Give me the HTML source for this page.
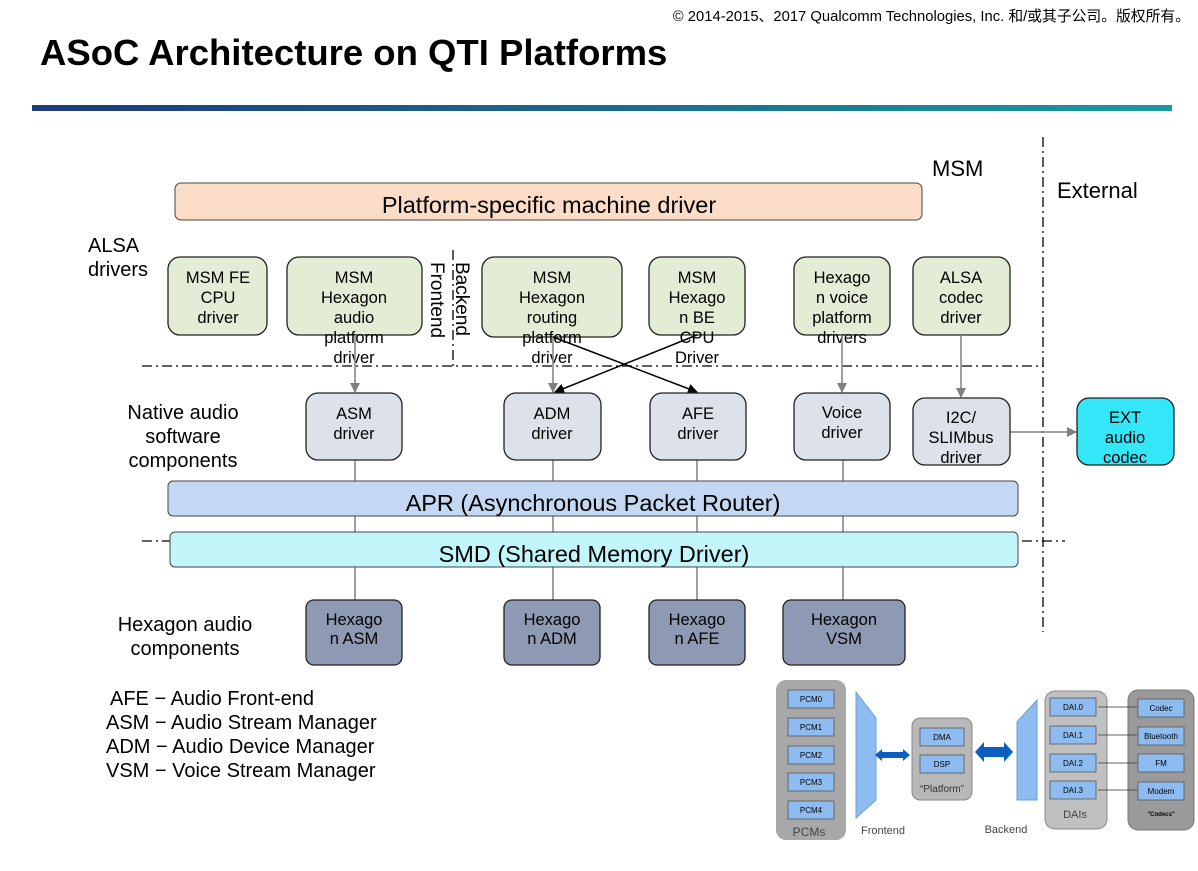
<!DOCTYPE html>
<html><head><meta charset="utf-8"><style>
body{margin:0;background:#fff;}
svg text{font-family:"Liberation Sans","Noto Sans CJK SC",sans-serif;}
</style></head><body>
<svg width="1198" height="866" viewBox="0 0 1198 866" xmlns="http://www.w3.org/2000/svg">
<defs>
<linearGradient id="g" x1="0" x2="1"><stop offset="0" stop-color="#1d3a7a"/><stop offset="1" stop-color="#1a9aa0"/></linearGradient>
<marker id="ag" markerWidth="10" markerHeight="10" refX="9" refY="5" orient="auto" markerUnits="userSpaceOnUse"><path d="M0,0 L10,5 L0,10z" fill="#808080"/></marker>
<marker id="ak" markerWidth="10" markerHeight="10" refX="9" refY="5" orient="auto" markerUnits="userSpaceOnUse"><path d="M0,0 L10,5 L0,10z" fill="#000"/></marker>
</defs>
<text x="1190" y="21" font-size="14.8" text-anchor="end">© 2014-2015、2017 Qualcomm Technologies, Inc. 和/或其子公司。版权所有。</text>
<text x="40" y="65" font-size="36.5" font-weight="bold">ASoC Architecture on QTI Platforms</text>
<rect x="32" y="105" width="1140" height="6" fill="url(#g)"/>

<g stroke="#000" stroke-width="1.3" stroke-dasharray="10,4,2,4" fill="none">
<line x1="1043" y1="137" x2="1043" y2="632"/>
<line x1="142" y1="366" x2="1043" y2="366"/>
<line x1="142" y1="541" x2="1065" y2="541"/>
<line x1="453" y1="250" x2="453" y2="366"/>
</g>
<text x="932" y="176" font-size="22">MSM</text>
<text x="1057" y="198" font-size="22">External</text>

<rect x="175" y="183" width="747" height="37" rx="6" fill="#fbdcc6" stroke="#444"/>
<text x="549" y="213" font-size="23.5" text-anchor="middle">Platform-specific machine driver</text>

<g font-size="20">
<text x="88" y="252">ALSA</text><text x="88" y="276">drivers</text>
<text x="183" y="419" text-anchor="middle">Native audio</text>
<text x="183" y="443" text-anchor="middle">software</text>
<text x="183" y="467" text-anchor="middle">components</text>
<text x="185" y="631" text-anchor="middle">Hexagon audio</text>
<text x="185" y="655" text-anchor="middle">components</text>
<text x="110" y="705">AFE − Audio Front-end</text>
<text x="106" y="729">ASM − Audio Stream Manager</text>
<text x="106" y="753">ADM − Audio Device Manager</text>
<text x="106" y="777">VSM − Voice Stream Manager</text>
</g>

<g fill="#e3ecd5" stroke="#222" stroke-width="1.3">
<rect x="168" y="257" width="99" height="78" rx="12"/>
<rect x="287" y="257" width="135" height="78" rx="12"/>
<rect x="482" y="257" width="140" height="80" rx="12"/>
<rect x="649" y="257" width="96" height="78" rx="12"/>
<rect x="794" y="257" width="96" height="78" rx="12"/>
<rect x="913" y="257" width="97" height="78" rx="12"/>
</g>
<g font-size="16.5" text-anchor="middle">
<text x="218" y="283">MSM FE</text><text x="218" y="303">CPU</text><text x="218" y="323">driver</text>
<text x="354" y="283">MSM</text><text x="354" y="303">Hexagon</text><text x="354" y="323">audio</text><text x="354" y="343">platform</text><text x="354" y="363">driver</text>
<text x="552" y="283">MSM</text><text x="552" y="303">Hexagon</text><text x="552" y="323">routing</text><text x="552" y="343">platform</text><text x="552" y="363">driver</text>
<text x="697" y="283">MSM</text><text x="697" y="303">Hexago</text><text x="697" y="323">n BE</text><text x="697" y="343">CPU</text><text x="697" y="363">Driver</text>
<text x="842" y="283">Hexago</text><text x="842" y="303">n voice</text><text x="842" y="323">platform</text><text x="842" y="343">drivers</text>
<text x="961" y="283">ALSA</text><text x="961" y="303">codec</text><text x="961" y="323">driver</text>
</g>
<text font-size="19" transform="translate(431,262) rotate(90)">Frontend</text>
<text font-size="19" transform="translate(456,262) rotate(90)">Backend</text>

<g stroke="#808080" stroke-width="1.5" marker-end="url(#ag)">
<line x1="355" y1="335" x2="355" y2="392"/>
<line x1="553" y1="337" x2="553" y2="392"/>
<line x1="842" y1="335" x2="842" y2="392"/>
<line x1="961" y1="335" x2="961" y2="397"/>
<line x1="1010" y1="432" x2="1076" y2="432"/>
</g>
<g stroke="#000" stroke-width="1.5" marker-end="url(#ak)">
<line x1="553" y1="337" x2="697" y2="392"/>
<line x1="697" y1="335" x2="555" y2="392"/>
</g>
<g stroke="#808080" stroke-width="1.5">
<line x1="355" y1="460" x2="355" y2="600"/>
<line x1="553" y1="460" x2="553" y2="600"/>
<line x1="697" y1="460" x2="697" y2="600"/>
<line x1="843" y1="460" x2="843" y2="600"/>
</g>

<g fill="#dde1ea" stroke="#222" stroke-width="1.3">
<rect x="306" y="393" width="96" height="67" rx="12"/>
<rect x="504" y="393" width="97" height="67" rx="12"/>
<rect x="650" y="393" width="96" height="67" rx="12"/>
<rect x="794" y="393" width="96" height="67" rx="12"/>
<rect x="913" y="398" width="97" height="67" rx="12"/>
</g>
<rect x="1077" y="398" width="97" height="67" rx="12" fill="#33e6f8" stroke="#222" stroke-width="1.3"/>
<g font-size="16.5" text-anchor="middle">
<text x="354" y="419">ASM</text><text x="354" y="439">driver</text>
<text x="552" y="419">ADM</text><text x="552" y="439">driver</text>
<text x="698" y="419">AFE</text><text x="698" y="439">driver</text>
<text x="842" y="418">Voice</text><text x="842" y="438">driver</text>
<text x="961" y="423">I2C/</text><text x="961" y="443">SLIMbus</text><text x="961" y="463">driver</text>
<text x="1125" y="423">EXT</text><text x="1125" y="443">audio</text><text x="1125" y="463">codec</text>
</g>

<rect x="168" y="481" width="850" height="35" rx="5" fill="#c5d8f3" stroke="#444"/>
<text x="593" y="511" font-size="23.5" text-anchor="middle">APR (Asynchronous Packet Router)</text>
<rect x="170" y="532" width="848" height="35" rx="5" fill="#c2f6fb" stroke="#444"/>
<text x="594" y="562" font-size="23.5" text-anchor="middle">SMD (Shared Memory Driver)</text>

<g fill="#8e99b3" stroke="#222" stroke-width="1.3">
<rect x="306" y="600" width="96" height="65" rx="8"/>
<rect x="504" y="600" width="96" height="65" rx="8"/>
<rect x="649" y="600" width="96" height="65" rx="8"/>
<rect x="783" y="600" width="122" height="65" rx="8"/>
</g>
<g font-size="16.5" text-anchor="middle">
<text x="354" y="625">Hexago</text><text x="354" y="644">n ASM</text>
<text x="552" y="625">Hexago</text><text x="552" y="644">n ADM</text>
<text x="697" y="625">Hexago</text><text x="697" y="644">n AFE</text>
<text x="844" y="625">Hexagon</text><text x="844" y="644">VSM</text>
</g>

<g font-size="8" text-anchor="middle">
<rect x="776" y="680" width="70" height="160" rx="10" fill="#a8a8a8"/>
<g fill="#8ebcf0" stroke="#555" stroke-width="0.8">
<rect x="788" y="690" width="46" height="18"/><rect x="788" y="718" width="46" height="18"/><rect x="788" y="746" width="46" height="18"/><rect x="788" y="773" width="46" height="18"/><rect x="788" y="801" width="46" height="18"/>
</g>
<text x="811" y="702">PCM0</text><text x="811" y="730">PCM1</text><text x="811" y="758">PCM2</text><text x="811" y="785">PCM3</text><text x="811" y="813">PCM4</text>
<text x="809" y="836" font-size="12" fill="#444">PCMs</text>
<path d="M856,692 L876,718 L876,800 L856,818z" fill="#8ebcf0" stroke="#6a9fd8"/>
<path d="M875,755 L882,749 L882,752 L903,752 L903,749 L910,755 L903,761 L903,758 L882,758 L882,761z" fill="#0b5fc0"/>
<text x="883" y="834" font-size="11" fill="#444">Frontend</text>
<rect x="912" y="718" width="60" height="82" rx="8" fill="#b8b8b8" stroke="#888"/>
<rect x="920" y="728" width="44" height="18" fill="#8ebcf0" stroke="#555" stroke-width="0.8"/>
<rect x="920" y="755" width="44" height="18" fill="#8ebcf0" stroke="#555" stroke-width="0.8"/>
<text x="942" y="740">DMA</text><text x="942" y="767">DSP</text>
<text x="942" y="792" font-size="10" fill="#333">“Platform”</text>
<path d="M975,752 L984,742 L984,747 L1004,747 L1004,742 L1013,752 L1004,762 L1004,757 L984,757 L984,762z" fill="#0b5fc0"/>
<path d="M1037,700 L1017,722 L1017,800 L1037,800z" fill="#8ebcf0" stroke="#6a9fd8"/>
<text x="1006" y="833" font-size="11" fill="#444">Backend</text>
<rect x="1045" y="691" width="62" height="138" rx="10" fill="#c0c0c0" stroke="#888"/>
<g fill="#8ebcf0" stroke="#555" stroke-width="0.8">
<rect x="1050" y="698" width="46" height="18"/><rect x="1050" y="726" width="46" height="18"/><rect x="1050" y="754" width="46" height="18"/><rect x="1050" y="781" width="46" height="18"/>
</g>
<text x="1073" y="710">DAI.0</text><text x="1073" y="738">DAI.1</text><text x="1073" y="766">DAI.2</text><text x="1073" y="793">DAI.3</text>
<text x="1075" y="818" font-size="11" fill="#444">DAIs</text>
<rect x="1128" y="690" width="66" height="140" rx="10" fill="#9a9a9a" stroke="#777"/>
<g fill="#8ebcf0" stroke="#555" stroke-width="0.8">
<rect x="1138" y="699" width="46" height="18"/><rect x="1138" y="727" width="46" height="18"/><rect x="1138" y="754" width="46" height="18"/><rect x="1138" y="782" width="46" height="18"/>
</g>
<text x="1161" y="711">Codec</text><text x="1161" y="739">Bluetooth</text><text x="1161" y="766">FM</text><text x="1161" y="794">Modem</text>
<text x="1161" y="816" font-size="6" font-weight="bold">"Codecs"</text>
<g stroke="#333" stroke-width="0.8"><line x1="1098" y1="707" x2="1137" y2="707"/><line x1="1098" y1="735" x2="1137" y2="735"/><line x1="1098" y1="763" x2="1137" y2="763"/><line x1="1098" y1="790" x2="1137" y2="790"/></g>
</g>
</svg>
</body></html>
